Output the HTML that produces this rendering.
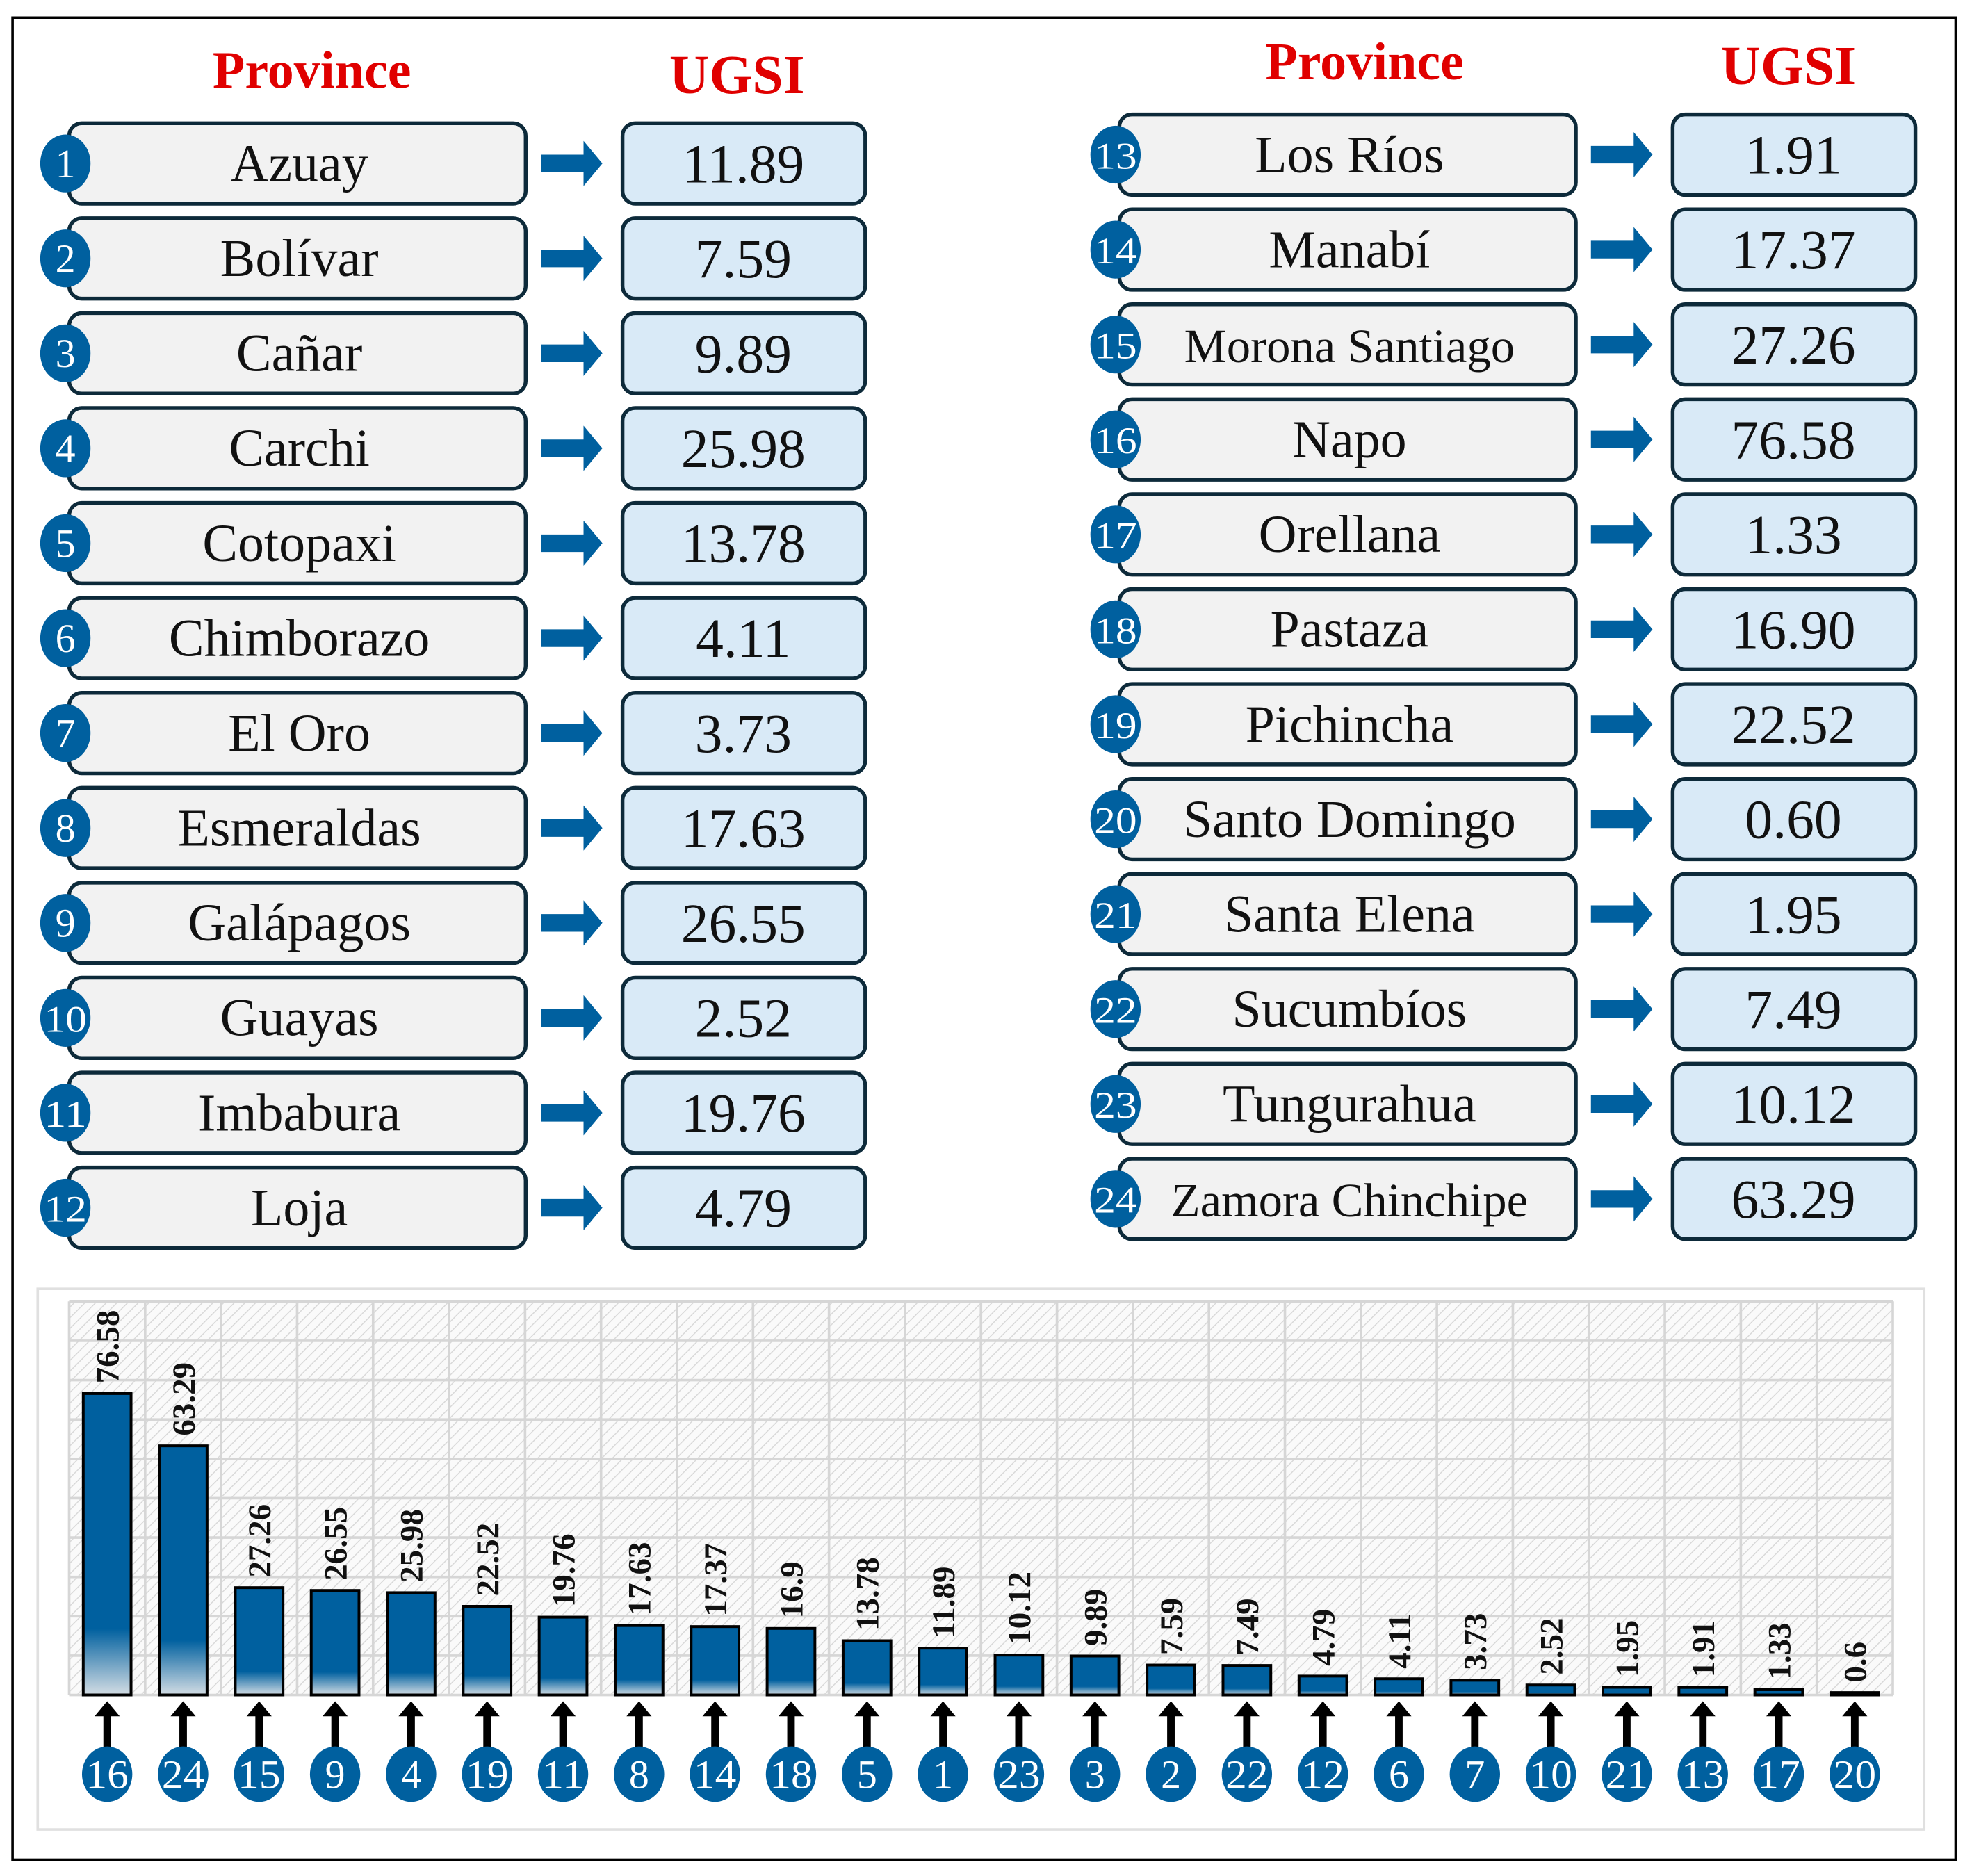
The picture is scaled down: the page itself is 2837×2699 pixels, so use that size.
<!DOCTYPE html>
<html><head><meta charset="utf-8"><style>
html,body{margin:0;padding:0;background:#fff;}
svg{display:block;}
text{font-family:"Liberation Serif",serif;}
</style></head><body>
<svg id="fig" width="2837" height="2699" viewBox="0 0 1568 1492" preserveAspectRatio="none" xmlns="http://www.w3.org/2000/svg">
<defs>
<pattern id="hatch" width="6" height="6" patternUnits="userSpaceOnUse" patternTransform="rotate(45)">
<rect width="6" height="6" fill="#fafafa"/><line x1="0" y1="0" x2="0" y2="6" stroke="#d8d8d8" stroke-width="1.6"/>
</pattern>
<linearGradient id="barGrad" x1="0" y1="0" x2="0" y2="1">
<stop offset="0" stop-color="#00609f"/><stop offset="0.78" stop-color="#00609f"/><stop offset="1" stop-color="#d4dde4"/>
</linearGradient>
</defs>
<rect x="10" y="14" width="1545" height="1465" fill="#fff" stroke="#000" stroke-width="2"/>
<text x="248" y="70" text-anchor="middle" font-size="42" font-weight="bold" fill="#e00000">Province</text>
<text x="586" y="74" text-anchor="middle" font-size="44" font-weight="bold" fill="#e00000">UGSI</text>
<text x="1085" y="63" text-anchor="middle" font-size="42" font-weight="bold" fill="#e00000">Province</text>
<text x="1422" y="67" text-anchor="middle" font-size="44" font-weight="bold" fill="#e00000">UGSI</text>
<g id="rows"></g>
<rect x="30" y="1025" width="1500" height="430" fill="#fff" stroke="#e0e0e0" stroke-width="2"/>
<g id="chart"></g>
</svg>
<script>
const provinces = ["Azuay","Bolívar","Cañar","Carchi","Cotopaxi","Chimborazo","El Oro","Esmeraldas","Galápagos","Guayas","Imbabura","Loja","Los Ríos","Manabí","Morona Santiago","Napo","Orellana","Pastaza","Pichincha","Santo Domingo","Santa Elena","Sucumbíos","Tungurahua","Zamora Chinchipe"];
const ugsiLabels = ["11.89","7.59","9.89","25.98","13.78","4.11","3.73","17.63","26.55","2.52","19.76","4.79","1.91","17.37","27.26","76.58","1.33","16.90","22.52","0.60","1.95","7.49","10.12","63.29"];
const chartIds = [16,24,15,9,4,19,11,8,14,18,5,1,23,3,2,22,12,6,7,10,21,13,17,20];
const chartValues = [76.58,63.29,27.26,26.55,25.98,22.52,19.76,17.63,17.37,16.9,13.78,11.89,10.12,9.89,7.59,7.49,4.79,4.11,3.73,2.52,1.95,1.91,1.33,0.6];
const chartLabels = ["76.58","63.29","27.26","26.55","25.98","22.52","19.76","17.63","17.37","16.9","13.78","11.89","10.12","9.89","7.59","7.49","4.79","4.11","3.73","2.52","1.95","1.91","1.33","0.6"];
const yTicks = [0,10,20,30,40,50,60,70,80,90,100];

const NS="http://www.w3.org/2000/svg";
function mk(tag,attrs,parent,txt){const e=document.createElementNS(NS,tag);for(const k in attrs)e.setAttribute(k,attrs[k]);if(txt!==undefined)e.textContent=txt;parent.appendChild(e);return e;}
const BLUE="#00609f";
const rows=document.getElementById('rows');
provinces.forEach((p,i)=>{
  const right=i>=12, j=i%12;
  const top=(right?91:98)+j*75.5;
  const bx=right?890:55, vx=right?1330:495;
  const cy=top+32;
  const g=mk('g',{},rows);
  
  
  const nb=mk('rect',{x:bx,y:top,width:363,height:64,rx:10,fill:'#f2f2f2',stroke:'#0d2a3a','stroke-width':3},g);
  
  
  const nt=mk('text',{x:bx+183,y:cy+14,'text-anchor':'middle','font-size':p.length>14?38:42,fill:'#111'},g,p);
  
  
  const c=mk('ellipse',{cx:bx-3,cy:cy,rx:20,ry:23,fill:BLUE},g);
  
  
  const ct=mk('text',{x:bx-3,y:cy+11,'text-anchor':'middle','font-size':i>=9?30:32,fill:'#fff',textLength:i>=9?34:'', lengthAdjust:'spacingAndGlyphs'},g,String(i+1));
  if(i<9) ct.removeAttribute('textLength');
  
  
  const ax=bx+375;
  const ar=mk('path',{d:`M${ax} ${cy-7}h34v-11l15 18l-15 18v-11h-34z`,fill:BLUE},g);
  
  
  const vb=mk('rect',{x:vx,y:top,width:193,height:64,rx:10,fill:'#d9eaf7',stroke:'#0d2a3a','stroke-width':3},g);
  
  
  const vt=mk('text',{x:vx+96,y:cy+15,'text-anchor':'middle','font-size':44,fill:'#111'},g,ugsiLabels[i]);
  
  
});

// chart
const ch=document.getElementById('chart');
const X0=55,X1=1505,YB=1348,YT=1035,N=chartValues.length,CW=(X1-X0)/N;
const yMax=yTicks[yTicks.length-1];
const ys=v=>YB-(v/yMax)*(YB-YT);
const xc=i=>X0+CW*(i+0.5);
const bg=mk('rect',{x:X0,y:YT,width:X1-X0,height:YB-YT,fill:'url(#hatch)'},ch);


yTicks.forEach(t=>{
  const l=mk('line',{x1:X0,x2:X1,y1:ys(t),y2:ys(t),stroke:'#d6d6d6','stroke-width':2},ch);
  
  
});
for(let k=0;k<=N;k++){
  const l=mk('line',{x1:X0+k*CW,x2:X0+k*CW,y1:YT,y2:YB,stroke:'#d6d6d6','stroke-width':2},ch);
  
  
}
chartValues.forEach((v,i)=>{
  const cx=xc(i), bw=38, top=ys(v);
  const b=mk('rect',{x:cx-bw/2,y:top,width:bw,height:Math.max(YB-top,1.5),fill:'url(#barGrad)',stroke:'#000','stroke-width':2.2},ch);
  
  
  const t=mk('text',{x:0,y:0,transform:`translate(${cx+9},${top-8}) rotate(-90)`,'font-size':26,fill:'#111','font-weight':'bold'},ch,chartLabels[i]);
  
  
  const a=mk('path',{d:`M${cx-3} 1392v-27h-7l10-12l10 12h-7v27z`,fill:'#000'},ch);
  
  
  const c=mk('ellipse',{cx:cx,cy:1411,rx:20,ry:22,fill:BLUE},ch);
  
  
  const ct=mk('text',{x:cx,y:1422,'text-anchor':'middle','font-size':32,fill:'#fff'},ch,String(chartIds[i]));
  if(chartIds[i]>=10){ct.setAttribute('textLength','34');ct.setAttribute('lengthAdjust','spacingAndGlyphs');}
  
  
});
</script>
</body></html>
